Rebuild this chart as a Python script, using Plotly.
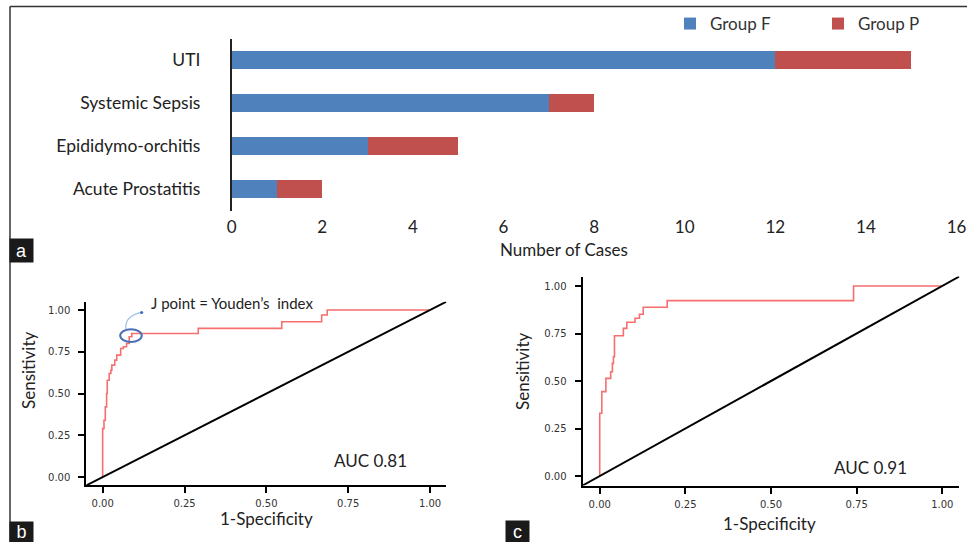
import plotly.graph_objects as go

W, H = 967, 542

# ---------------- data ----------------
categories = ["UTI", "Systemic Sepsis", "Epididymo-orchitis", "Acute Prostatitis"]
group_f = [12, 7, 3, 1]
group_p = [3, 1, 2, 1]
bar_ticks = [0, 2, 4, 6, 8, 10, 12, 14, 16]

roc_b_fpr = [0, 0.004, 0.008, 0.012, 0.014, 0.020, 0.025, 0.028, 0.037, 0.043,
             0.055, 0.063, 0.073, 0.081, 0.089, 0.292, 0.547, 0.669, 0.686, 1.0]
roc_b_tpr = [0, 0.29, 0.34, 0.42, 0.50, 0.58, 0.62, 0.64, 0.67, 0.70,
             0.73, 0.77, 0.78, 0.80, 0.84, 0.86, 0.89, 0.93, 0.97, 1.0]

roc_c_fpr = [0, 0.006, 0.018, 0.032, 0.037, 0.040, 0.043, 0.069, 0.079, 0.103,
             0.116, 0.127, 0.197, 0.741, 1.0]
roc_c_tpr = [0, 0.33, 0.444, 0.514, 0.549, 0.593, 0.628, 0.738, 0.777, 0.809,
             0.83, 0.851, 0.888, 0.923, 1.0]

roc_ticks = [0, 0.25, 0.5, 0.75, 1.0]
roc_ticktext = ["0.00", "0.25", "0.50", "0.75", "1.00"]
youden_point = (0.0865, 0.847)

# ---------------- helpers ----------------
def px_x(p):
    return p / W

def px_y(p):
    return 1 - p / H

TXT = "#222222"
LABEL_FONT = "Lato, Open Sans, sans-serif"
TICK_FONT = "DejaVu Sans, sans-serif"
BLUE = "#4F81BD"
RED = "#C0504D"
ROC_RED = "#F56F6F"

fig = go.Figure()

# ---------------- panel a: stacked bars ----------------
fig.add_trace(go.Bar(y=categories, x=group_f, orientation="h", name="Group F",
                     marker=dict(color=BLUE, line=dict(width=0)),
                     xaxis="x", yaxis="y", legend="legend"))
fig.add_trace(go.Bar(y=categories, x=group_p, orientation="h", name="Group P",
                     marker=dict(color=RED, line=dict(width=0)),
                     xaxis="x", yaxis="y", legend="legend2"))

# ---------------- panel b ----------------
fig.add_trace(go.Scatter(x=roc_b_fpr, y=roc_b_tpr, mode="lines", line_shape="vh",
                         line=dict(color=ROC_RED, width=1.6), showlegend=False,
                         xaxis="x2", yaxis="y2"))
fig.add_trace(go.Scatter(x=[-0.05, 1.05], y=[-0.05, 1.05], mode="lines",
                         line=dict(color="black", width=2), showlegend=False,
                         xaxis="x2", yaxis="y2"))

# ---------------- panel c ----------------
fig.add_trace(go.Scatter(x=roc_c_fpr, y=roc_c_tpr, mode="lines", line_shape="vh",
                         line=dict(color=ROC_RED, width=1.6), showlegend=False,
                         xaxis="x3", yaxis="y3"))
fig.add_trace(go.Scatter(x=[-0.05, 1.05], y=[-0.05, 1.05], mode="lines",
                         line=dict(color="black", width=2), showlegend=False,
                         xaxis="x3", yaxis="y3"))

roc_axis = dict(range=[-0.05, 1.05], tickvals=roc_ticks, ticktext=roc_ticktext,
                showline=True, linecolor="black", linewidth=2, ticks="outside",
                ticklen=6, tickwidth=2, tickcolor="black", showgrid=False,
                zeroline=False, automargin=False,
                tickfont=dict(family=TICK_FONT, size=10, color="#333"))

fig.update_layout(
    template="none",
    width=W, height=H, margin=dict(l=0, r=0, t=0, b=0, pad=0),
    paper_bgcolor="white", plot_bgcolor="white",
    barmode="stack", bargap=0.6,
    xaxis=dict(domain=[px_x(231.7), px_x(956.5)], range=[0, 16], tickvals=bar_ticks,
               showline=False, showgrid=False, zeroline=False, ticks="", automargin=False,
               tickfont=dict(family=LABEL_FONT, size=17, color=TXT), anchor="y",
               ticklabelstandoff=4),
    yaxis=dict(domain=[px_y(210.5), px_y(38.5)], autorange="reversed",
               showline=True, linecolor="#222", linewidth=1.5, ticks="",
               showgrid=False, zeroline=False, anchor="x", automargin=False,
               tickfont=dict(family=LABEL_FONT, size=17.5, color=TXT),
               ticklabelstandoff=26),
    xaxis2=dict(domain=[px_x(86.3), px_x(446.4)], anchor="y2", ticklabelstandoff=2, **roc_axis),
    yaxis2=dict(domain=[px_y(485.4), px_y(301.7)], anchor="x2", ticklabelstandoff=6, **roc_axis),
    xaxis3=dict(domain=[px_x(582.6), px_x(959.4)], anchor="y3", ticklabelstandoff=2, **roc_axis),
    yaxis3=dict(domain=[px_y(485.5), px_y(276.5)], anchor="x3", ticklabelstandoff=6, **roc_axis),
    legend=dict(x=px_x(670), y=px_y(24), xanchor="left", yanchor="middle",
                orientation="h", bgcolor="rgba(0,0,0,0)",
                font=dict(family=LABEL_FONT, size=17, color="#333")),
    legend2=dict(x=px_x(818), y=px_y(24), xanchor="left", yanchor="middle",
                 orientation="h", bgcolor="rgba(0,0,0,0)",
                 font=dict(family=LABEL_FONT, size=17, color="#333")),
)

# ---------------- text annotations ----------------
ann = []
def text(x, y, s, size=17, angle=0, xanchor="center", family=LABEL_FONT):
    ann.append(dict(x=px_x(x), y=px_y(y), xref="paper", yref="paper", text=s,
                    showarrow=False, textangle=angle, xanchor=xanchor, yanchor="middle",
                    font=dict(family=family, size=size, color=TXT)))

text(564, 250, "Number of Cases", size=17)
text(28, 371, "Sensitivity", size=17, angle=-90)
text(266.7, 518, "1-Specificity", size=17)
text(370, 460, "AUC 0.81", size=17)
text(149, 303, "J point = Youden\u2019s  index", size=15, xanchor="left")
text(522, 372, "Sensitivity", size=17, angle=-90)
text(769.7, 523, "1-Specificity", size=17)
text(870, 467, "AUC 0.91", size=17)

def panel_label(cx, cy, w, h, s):
    ann.append(dict(x=px_x(cx), y=px_y(cy), xref="paper", yref="paper", text=s,
                    showarrow=False, xanchor="center", yanchor="middle",
                    width=w, height=h, bgcolor="#1a1a1a", borderpad=0,
                    font=dict(family="Liberation Sans, Arial, sans-serif", size=18, color="white")))

panel_label(21.5, 250.5, 23, 23, "a")
panel_label(21.5, 532, 23, 20, "b")
panel_label(517.5, 531.5, 23, 21, "c")
fig.update_layout(annotations=ann)

# ---------------- shapes: frame and Youden marker ----------------
shapes = [
    dict(type="line", xref="paper", yref="paper", x0=px_x(10), x1=1, y0=px_y(6.5), y1=px_y(6.5),
         line=dict(color="#333", width=1.5)),
    dict(type="line", xref="paper", yref="paper", x0=px_x(10), x1=px_x(10), y0=px_y(6.5), y1=0,
         line=dict(color="#333", width=1.5)),
]
jx, jy = youden_point
shapes.append(dict(type="circle", xref="x2", yref="y2", x0=jx - 0.033, x1=jx + 0.033,
                   y0=jy - 0.038, y1=jy + 0.038, line=dict(color="#4A6FB5", width=2)))
shapes.append(dict(type="path", xref="x2", yref="y2",
                   path="M 0.071,0.886 Q 0.066,0.964 0.119,0.986",
                   line=dict(color="#9DC3E6", width=1.2)))
shapes.append(dict(type="circle", xref="x2", yref="y2", x0=0.119 - 0.005, x1=0.119 + 0.005,
                   y0=0.986 - 0.009, y1=0.986 + 0.009, fillcolor="#4472C4",
                   line=dict(color="#4472C4", width=0)))
fig.update_layout(shapes=shapes)

fig.write_html("out.html", config={"displayModeBar": False},
               post_script="document.body.style.margin='0px';document.body.style.overflow='hidden';")
